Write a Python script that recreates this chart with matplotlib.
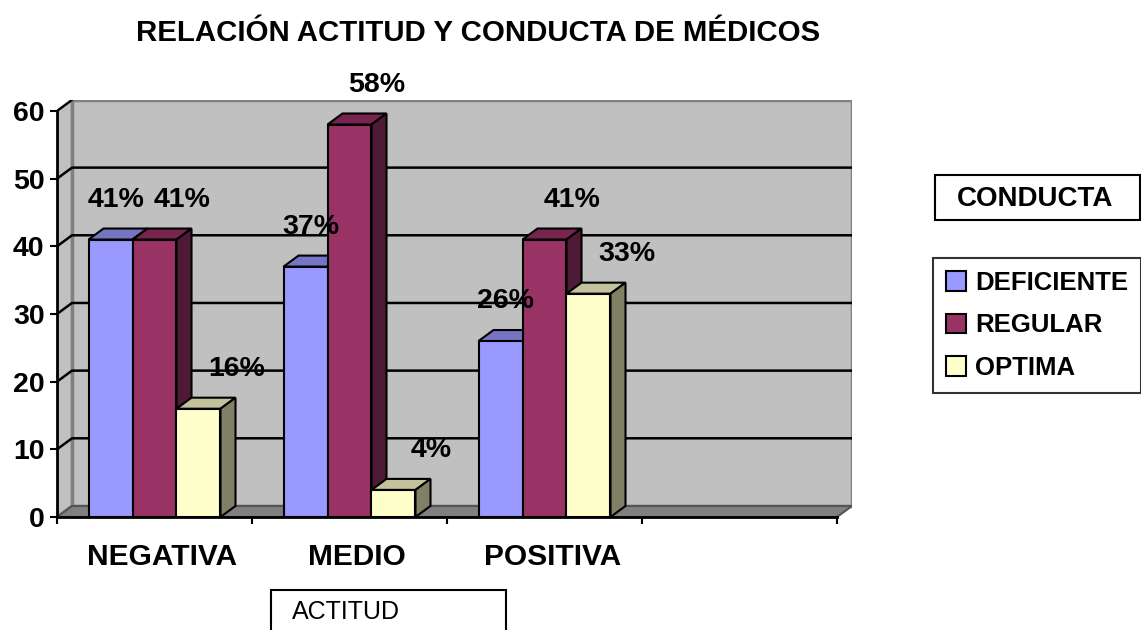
import matplotlib
matplotlib.use('Agg')
import matplotlib.pyplot as plt
from matplotlib.patches import Polygon, Rectangle, Patch

plt.rcParams['font.family'] = ['Liberation Sans', 'DejaVu Sans']

# DATOS
categorias = ['NEGATIVA', 'MEDIO', 'POSITIVA']
series = ['DEFICIENTE', 'REGULAR', 'OPTIMA']
deficiente = [41, 37, 26]
regular = [41, 58, 41]
optima = [16, 4, 33]
valores = [deficiente, regular, optima]
yticks = [0, 10, 20, 30, 40, 50, 60]

# ESTILO
frente = ['#9999FF', '#993366', '#FFFFCC']
tapa = ['#7575C4', '#78244F', '#C2C29C']
lado = ['#5A5A99', '#4F1A35', '#808066']
ncat = 4          # Excel deja una categoria vacia al final
DX, DY = 0.077, 1.63   # profundidad 3D
ancho = 0.2256
pxx, pxy = 195.0, 6.767  # pixeles por unidad
W, H = 1141, 630

fig = plt.figure(figsize=(W / 100, H / 100), dpi=100)
fig.patch.set_facecolor('white')
x0px, y0px = 57, 517
ax = fig.add_axes([x0px / W, (H - y0px) / H,
                   (ncat + DX) * pxx / W, (60 + DY) * pxy / H])
ax.set_xlim(0, ncat + DX)
ax.set_ylim(0, 60 + DY)
ax.set_facecolor('none')

# paredes
ymax = yticks[-1]
ax.add_patch(Polygon([(DX, DY), (ncat + DX, DY), (ncat + DX, ymax + DY), (DX, ymax + DY)],
                     closed=True, fc='#C0C0C0', ec='#808080', lw=2.5, zorder=1))
ax.add_patch(Polygon([(0, 0), (DX, DY), (DX, ymax + DY), (0, ymax)],
                     closed=True, fc='#C0C0C0', ec='#808080', lw=2, zorder=1))
ax.add_patch(Polygon([(0, 0), (ncat, 0), (ncat + DX, DY), (DX, DY)],
                     closed=True, fc='#808080', ec='#555555', lw=1.5, zorder=2))
# lineas de division
for t in yticks[1:-1]:
    ax.plot([0, DX, ncat + DX], [t, t + DY, t + DY], color='black', lw=1.8, zorder=1.5)
ax.plot([0, DX], [ymax, ymax + DY], color='black', lw=1.5, zorder=1.5)

# barras
for i in range(len(categorias)):
    for j in range(len(series)):
        v = valores[j][i]
        x = i + 0.5 - 1.5 * ancho + j * ancho
        z = 3 + i * 3 + j
        ax.bar(x, v, width=ancho, align='edge', color=frente[j],
               edgecolor='black', lw=1.5, zorder=z + 0.5)
        ax.add_patch(Polygon([(x, v), (x + ancho, v), (x + ancho + DX, v + DY), (x + DX, v + DY)],
                             closed=True, fc=tapa[j], ec='black', lw=1.5, zorder=z))
        ax.add_patch(Polygon([(x + ancho, 0), (x + ancho + DX, DY),
                              (x + ancho + DX, v + DY), (x + ancho, v)],
                             closed=True, fc=lado[j], ec='black', lw=1.5, zorder=z))

# etiquetas de datos
desp = [0.026, 0.14, 0.195]
for i in range(len(categorias)):
    for j in range(len(series)):
        v = valores[j][i]
        x = i + 0.5 - ancho + j * ancho
        ax.text(x + desp[j], v + 5.9, f'{v}%', ha='center', va='center',
                fontsize=20.5, fontweight='bold', zorder=20, clip_on=False)

# ejes
for s in ['top', 'right']:
    ax.spines[s].set_visible(False)
ax.spines['left'].set_bounds(0, ymax)
ax.spines['bottom'].set_bounds(0, ncat)
ax.spines['left'].set_linewidth(2)
ax.spines['bottom'].set_linewidth(2)
ax.spines['left'].set_zorder(30)
ax.spines['bottom'].set_zorder(30)
ax.set_yticks(yticks)
ax.set_yticklabels([str(t) for t in yticks], fontsize=20.5, fontweight='bold')
ax.tick_params(axis='y', length=5, width=1.5, pad=4)
ax.set_xticks(range(ncat + 1))
ax.set_xticklabels([])
ax.tick_params(axis='x', which='major', length=5, width=1.5)
ax.set_xticks([i + 0.54 for i in range(len(categorias))], categorias, minor=True)
ax.tick_params(axis='x', which='minor', length=0, pad=19, labelsize=21.5)
for lab in ax.get_xticklabels(minor=True):
    lab.set_fontweight('bold')

# titulo
fig.text(478 / W, 1 - 33 / H, 'RELACIÓN ACTITUD Y CONDUCTA DE MÉDICOS',
         ha='center', va='center', fontsize=21.2, fontweight='bold')

# caja CONDUCTA
fig.add_artist(Rectangle((935 / W, 1 - 220 / H), 205 / W, 45 / H, transform=fig.transFigure,
                         fc='white', ec='black', lw=1.5))
fig.text(1035 / W, 1 - 199 / H, 'CONDUCTA', ha='center', va='center',
         fontsize=20, fontweight='bold')

# caja ACTITUD
fig.add_artist(Rectangle((271 / W, -10 / H), 235 / W, 50 / H, transform=fig.transFigure,
                         fc='white', ec='black', lw=1.5))
fig.text(292 / W, 1 - 612 / H, 'ACTITUD', ha='left', va='center', fontsize=18)

# leyenda
handles = [Patch(fc=frente[j], ec='black', lw=1.5) for j in range(len(series))]
leg = fig.legend(handles, series, loc='upper left', bbox_to_anchor=(933 / W, 1 - 258 / H),
                 borderaxespad=0, frameon=True, fancybox=False, edgecolor='black',
                 handlelength=0.8, handleheight=0.8, handletextpad=0.35,
                 labelspacing=0.72, borderpad=0.5,
                 prop={'size': 18.5, 'weight': 'bold'})
leg.get_frame().set_linewidth(1.5)

fig.savefig('out.png', dpi=100)
